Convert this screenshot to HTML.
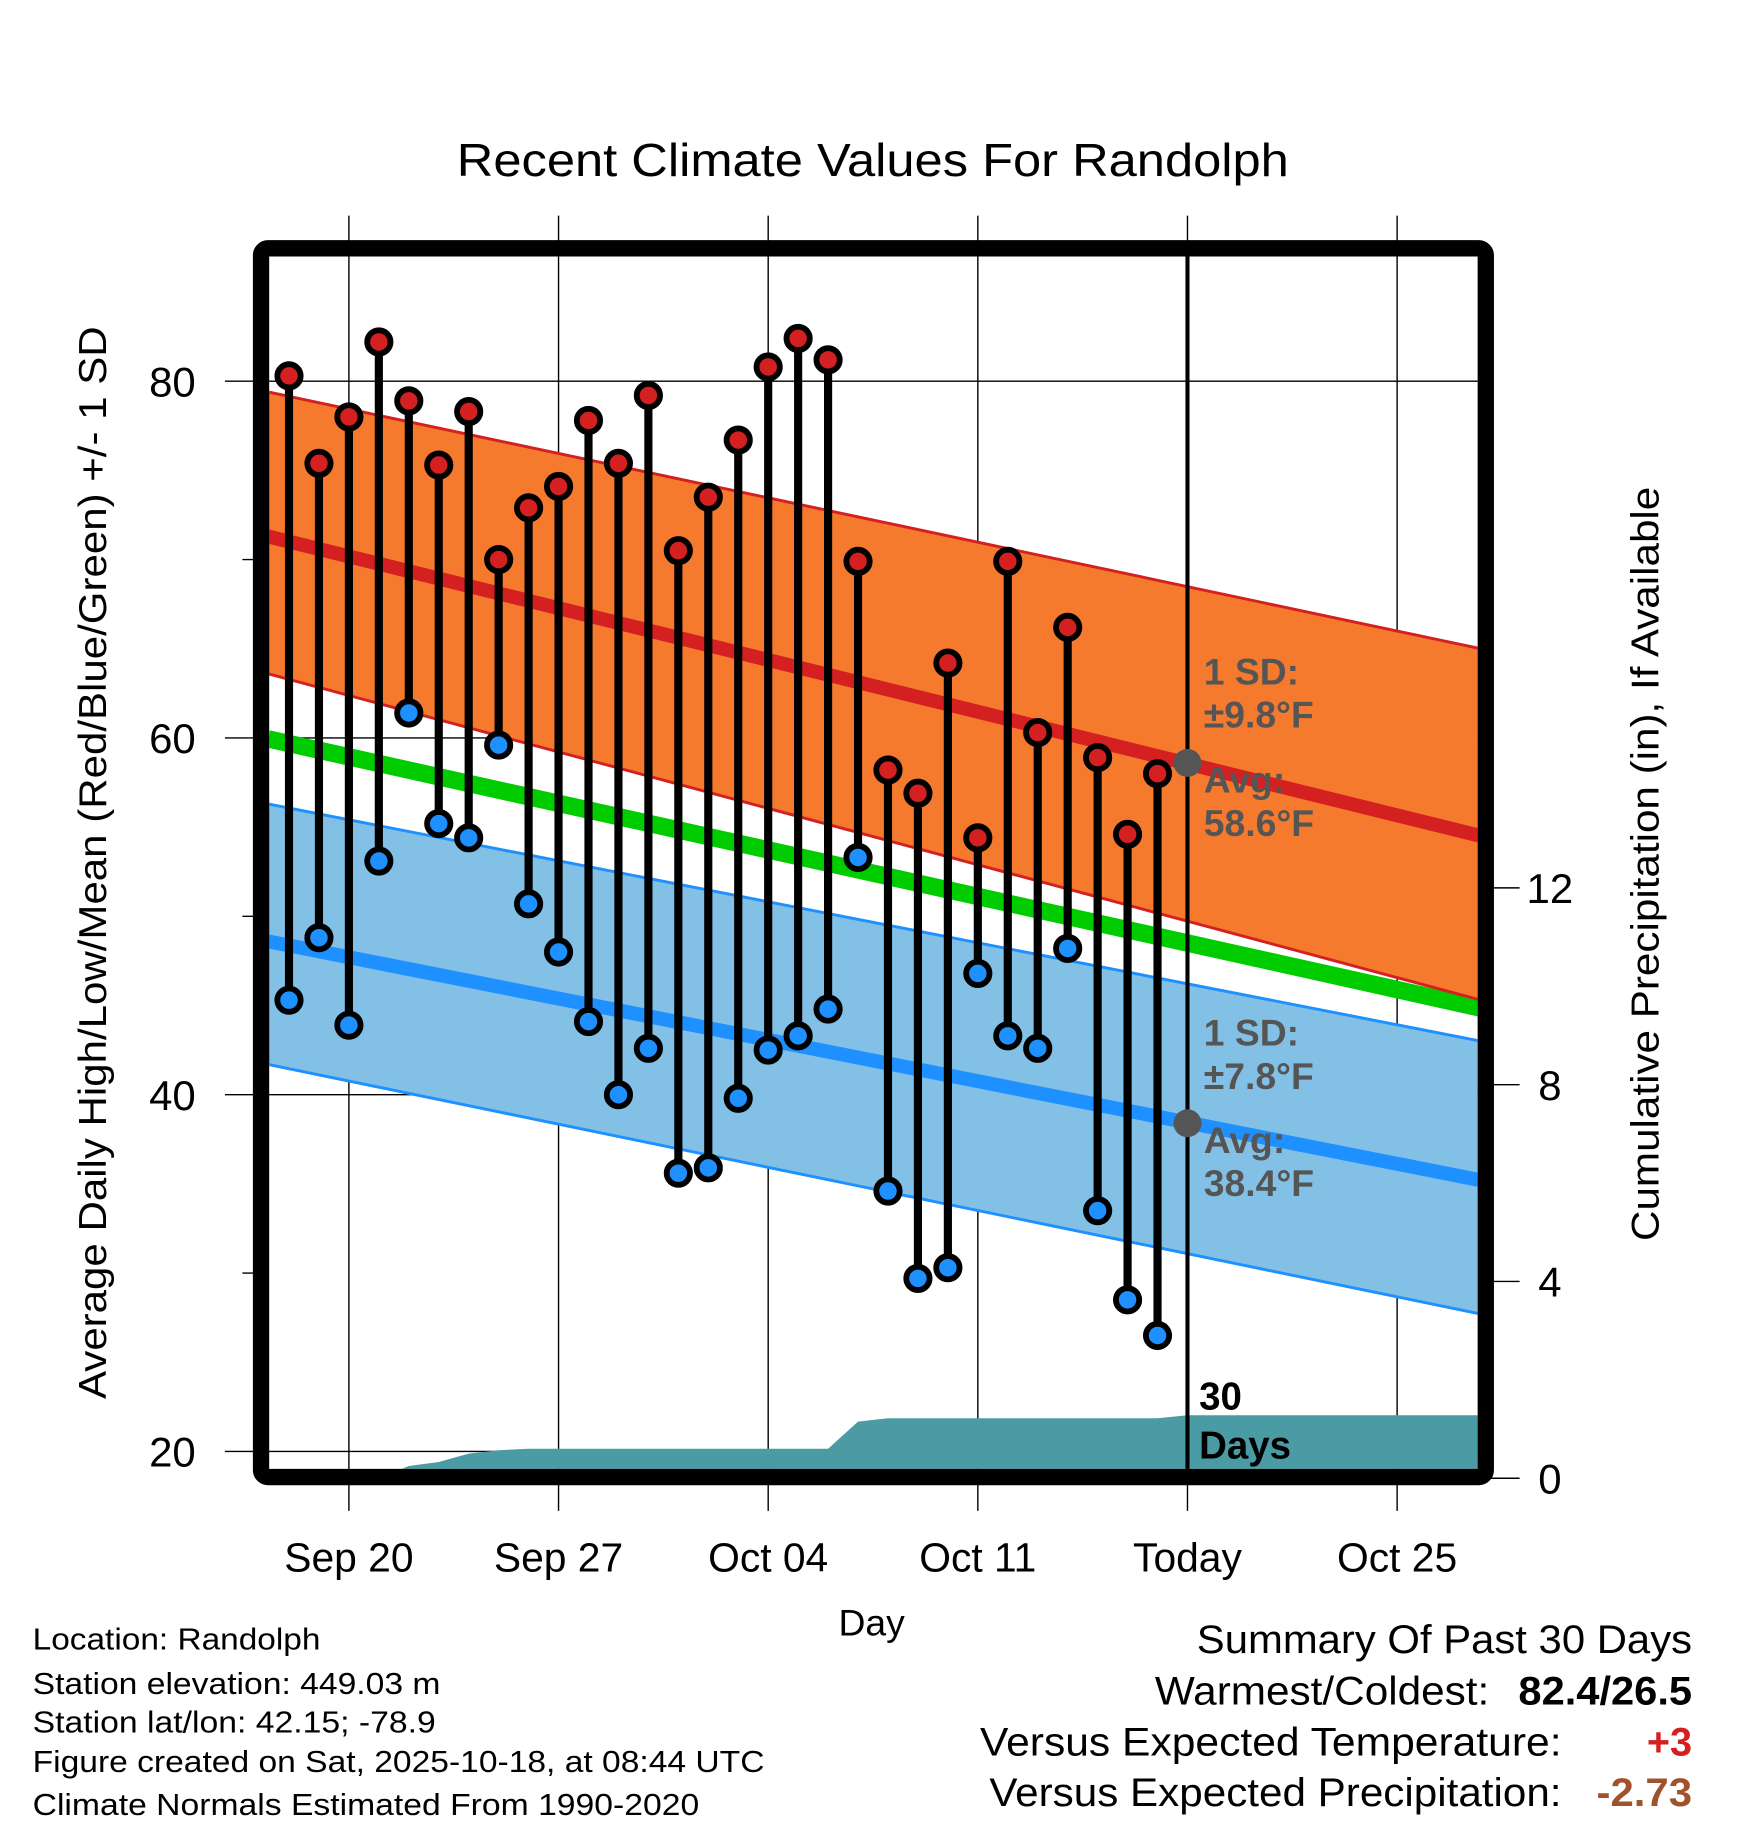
<!DOCTYPE html>
<html><head><meta charset="utf-8"><style>
html,body{margin:0;padding:0;background:#fff;}
svg{display:block;font-family:"Liberation Sans",sans-serif;}
</style></head><body>
<svg id="chart" width="1748" height="1828" viewBox="0 0 1500 1568" preserveAspectRatio="none" xmlns="http://www.w3.org/2000/svg">
<defs><clipPath id="plotclip"><rect x="231" y="220" width="1037" height="1040"/></clipPath></defs>
<text x="749" y="151" font-size="40" text-anchor="middle" textLength="714" lengthAdjust="spacingAndGlyphs">Recent Climate Values For Randolph</text>
<g id="grid"></g>
<g id="bands" clip-path="url(#plotclip)"></g>
<g id="marks" clip-path="url(#plotclip)"></g>
<g id="ticks"></g>
<rect x="224" y="213" width="1051" height="1054" rx="6" fill="none" stroke="#000" stroke-width="14"/>
<text transform="translate(91,740) rotate(-90)" font-size="33" text-anchor="middle" textLength="920" lengthAdjust="spacingAndGlyphs">Average Daily High/Low/Mean (Red/Blue/Green) +/- 1 SD</text>
<text transform="translate(1423,741) rotate(-90)" font-size="33" text-anchor="middle" textLength="647" lengthAdjust="spacingAndGlyphs">Cumulative Precipitation (in), If Available</text>
<text x="748" y="1403" font-size="32" text-anchor="middle">Day</text>
<g font-size="26">
<text x="28" y="1415" textLength="247" lengthAdjust="spacingAndGlyphs">Location: Randolph</text>
<text x="28" y="1453" textLength="350" lengthAdjust="spacingAndGlyphs">Station elevation: 449.03 m</text>
<text x="28" y="1486" textLength="346" lengthAdjust="spacingAndGlyphs">Station lat/lon: 42.15; -78.9</text>
<text x="28" y="1520" textLength="628" lengthAdjust="spacingAndGlyphs">Figure created on Sat, 2025-10-18, at 08:44 UTC</text>
<text x="28" y="1557" textLength="572" lengthAdjust="spacingAndGlyphs">Climate Normals Estimated From 1990-2020</text>
</g>
<g font-size="34">
<text x="1027" y="1418" textLength="425" lengthAdjust="spacingAndGlyphs">Summary Of Past 30 Days</text>
<text x="991" y="1462" textLength="287" lengthAdjust="spacingAndGlyphs">Warmest/Coldest:</text>
<text x="1303" y="1462" font-weight="bold" textLength="149" lengthAdjust="spacingAndGlyphs">82.4/26.5</text>
<text x="841" y="1506" textLength="499" lengthAdjust="spacingAndGlyphs">Versus Expected Temperature:</text>
<text x="1452" y="1506" text-anchor="end" font-weight="bold" fill="#d42020">+3</text>
<text x="849" y="1549" textLength="491" lengthAdjust="spacingAndGlyphs">Versus Expected Precipitation:</text>
<text x="1370" y="1549" font-weight="bold" fill="#a0522d" textLength="82" lengthAdjust="spacingAndGlyphs">-2.73</text>
</g>
</svg>
<script>
const highs=[80.3,75.4,78.0,82.2,78.9,75.3,78.3,70.0,72.9,74.1,77.8,75.4,79.2,70.5,73.5,76.7,80.8,82.4,81.2,69.9,58.2,56.9,64.2,54.4,69.9,60.3,66.2,58.9,54.6,58.0];
const lows=[45.3,48.8,43.9,53.1,61.4,55.2,54.4,59.6,50.7,48.0,44.1,40.0,42.6,35.6,35.9,39.8,42.5,43.3,44.8,53.3,34.6,29.7,30.3,46.8,43.3,42.6,48.2,33.5,28.5,26.5];
const precip=[0,0,0,0,0.25,0.33,0.5,0.57,0.6,0.6,0.6,0.6,0.6,0.6,0.6,0.6,0.6,0.6,0.6,1.15,1.22,1.22,1.22,1.22,1.22,1.22,1.22,1.22,1.22,1.22,1.28,1.28,1.28,1.28,1.28,1.28,1.28,1.28,1.28,1.28,1.28];
const yTicks=[20,40,60,80];
const yMinor=[30,50,70];
const y2Ticks=[0,4,8,12];
const xTickDays=[2,9,16,23,30,37];
const xTickLabels=["Sep 20","Sep 27","Oct 04","Oct 11","Today","Oct 25"];
const todayDay=30;
// normals at plot left edge / right edge
const highUpper=[79.4,65.0], highMean=[71.3,54.5], highLower=[63.6,45.3];
const lowUpper=[56.3,43.0], lowMean=[48.6,35.2], lowLower=[41.7,27.7];
const normHighToday=58.6, normLowToday=38.4;

const NS="http://www.w3.org/2000/svg";
const X=d=>248+25.7*d;
const Y=v=>1245-(v-20)*15.3;
const Y2=p=>1268-42.2*p;
const dL=-0.7, dR=39.8;
function el(tag,attrs,parent){const e=document.createElementNS(NS,tag);for(const k in attrs)e.setAttribute(k,attrs[k]);parent.appendChild(e);return e;}
const grid=document.getElementById('grid'),bands=document.getElementById('bands'),marks=document.getElementById('marks'),ticks=document.getElementById('ticks');

xTickDays.forEach((d,i)=>{
  const l=el('line',{x1:X(d),x2:X(d),y1:185,y2:1296,stroke:'#000','stroke-width':1.2},grid);
  
  
  const t=el('text',{x:X(d),y:1348,'font-size':35,'text-anchor':'middle'},ticks);
  t.textContent=xTickLabels[i];
  
  
});
yTicks.forEach(v=>{
  const l=el('line',{x1:193,x2:1268,y1:Y(v),y2:Y(v),stroke:'#000','stroke-width':1.2},grid);
  
  
  const t=el('text',{x:168,y:Y(v)+13,'font-size':36,'text-anchor':'end'},ticks);
  t.textContent=v;
  
  
});
yMinor.forEach(v=>{
  const l=el('line',{x1:208,x2:224,y1:Y(v),y2:Y(v),stroke:'#000','stroke-width':1.2},ticks);
  
  
});
y2Ticks.forEach(p=>{
  const l=el('line',{x1:1275,x2:1304,y1:Y2(p),y2:Y2(p),stroke:'#000','stroke-width':1.2},ticks);
  
  
  const t=el('text',{x:1330,y:Y2(p)+13,'font-size':36,'text-anchor':'middle'},ticks);
  t.textContent=p;
  
  
});

function band(up,lo,fill,stroke,name){
  const pts=[[dL,up[0]],[dR,up[1]],[dR,lo[1]],[dL,lo[0]]].map(p=>X(p[0])+','+Y(p[1])).join(' ');
  const p=el('polygon',{points:pts,fill:fill,stroke:stroke,'stroke-width':2.5},bands);
  
  
}
function mline(m,color,w,name){
  const l=el('line',{x1:X(dL),y1:Y(m[0]),x2:X(dR),y2:Y(m[1]),stroke:color,'stroke-width':w},bands);
  
  
}
band(lowUpper,lowLower,'#83c0e6','#1e90ff','low-sd-band');
mline(lowMean,'#1e90ff',12,'normal-low-line');
mline([(lowMean[0]+highMean[0])/2,(lowMean[1]+highMean[1])/2],'#00cc00',15,'normal-mean-line');
band(highUpper,highLower,'#f57a2e','#d42020','high-sd-band');
mline(highMean,'#d42020',12,'normal-high-line');

let pp=[X(dL)+','+1262];
precip.forEach((p,d)=>pp.push(X(d)+','+Y2(p)));
pp.push(X(dR)+','+Y2(precip[precip.length-1]));
pp.push(X(dR)+','+1262);
const pa=el('polygon',{points:pp.join(' '),fill:'#4a9ba4'},bands);



const ann=[["1 SD:",587],["±9.8°F",624],["Avg:",680],["58.6°F",717],["1 SD:",897],["±7.8°F",934],["Avg:",989],["38.4°F",1026]];
ann.forEach(a=>{
  const t=el('text',{x:1033,y:a[1],'font-size':32,'font-weight':'bold',fill:'#555'},bands);
  t.textContent=a[0];
  
  
});

highs.forEach((h,d)=>{
  const s=el('line',{x1:X(d),x2:X(d),y1:Y(h),y2:Y(lows[d]),stroke:'#000','stroke-width':7},marks);
  
  
});
highs.forEach((h,d)=>{
  const c=el('circle',{cx:X(d),cy:Y(h),r:10,fill:'#d42020',stroke:'#000','stroke-width':5},marks);
  
  
  const c2=el('circle',{cx:X(d),cy:Y(lows[d]),r:10,fill:'#1e90ff',stroke:'#000','stroke-width':5},marks);
  
  
});
const tl=el('line',{x1:X(todayDay),x2:X(todayDay),y1:215,y2:1262,stroke:'#000','stroke-width':3.5},marks);


[normHighToday,normLowToday].forEach(v=>{
  const c=el('circle',{cx:X(todayDay),cy:Y(v),r:12,fill:'#555'},marks);
  
  
});
[["30",1209],["Days",1251]].forEach(a=>{
  const t=el('text',{x:1029,y:a[1],'font-size':33,'font-weight':'bold'},marks);
  t.textContent=a[0];
  
  
});
</script>
</body></html>
